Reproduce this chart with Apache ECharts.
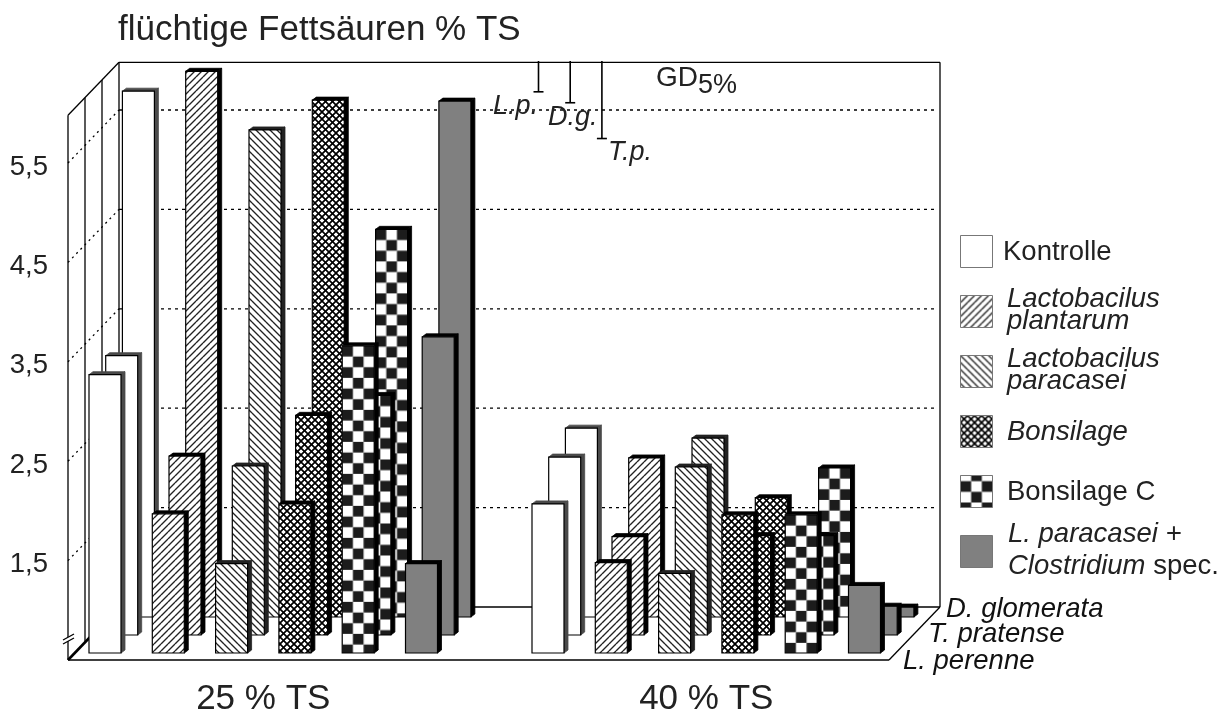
<!DOCTYPE html>
<html>
<head>
<meta charset="utf-8">
<style>html,body{margin:0;padding:0;background:#fff}#c{width:1230px;height:713px}</style>
<script src="https://cdn.jsdelivr.net/npm/echarts@6/dist/echarts.min.js"></script>
</head>
<body>
<div id="c"></div>
<script>
// ---- data ----
const dmLevels = ['25 % TS', '40 % TS'];
const treatments = ['Kontrolle', 'Lactobacilus plantarum', 'Lactobacilus paracasei', 'Bonsilage', 'Bonsilage C', 'L. paracasei + Clostridium spec.'];
const species = ['L. perenne', 'T. pratense', 'D. glomerata'];
// values per treatment, first the six of 25 % TS then the six of 40 % TS
const lPerenne25 = [3.30, 1.90, 1.40, 2.00, 3.59, 1.40];
const lPerenne40 = [2.00, 1.41, 1.30, 1.89, 1.89, 1.18];
const tPratense25 = [3.31, 2.30, 2.20, 2.71, 2.91, 3.50];
const tPratense40 = [2.29, 1.49, 2.19, 1.50, 1.50, 0.79];
const dGlomerata25 = [5.79, 5.99, 5.40, 5.70, 4.40, 5.69];
const dGlomerata40 = [2.40, 2.10, 2.30, 1.70, 2.00, 0.60];
const gdLabels = ['L.p.', 'D.g.', 'T.p.'];
const gdValues = [0.31, 0.42, 0.78];
const gridValues = [1.5, 2.5, 3.5, 4.5, 5.5];

// ---- layout ----
const FONT = '"Liberation Sans", Arial, sans-serif';
const STEP = 63.3, BAR = 32, DEPTH = 4, DEPTH_Y = 3, ROW_DX = 16.7, ROW_DY = -18, FRONT_DY = -7;
const AX_X = 68, FLOOR_R = 889, WALL_DX = 51, WALL_DY = -53, MIN = 0.5, MAX = 6;
const GROUP_W = STEP * 5 + BAR;
const sideColors = ['#4a4a4a', '#000', '#222', '#000', '#000', '#000'];

function tile(w, h, draw) {
  const c = document.createElement('canvas');
  c.width = w; c.height = h;
  const g = c.getContext('2d');
  g.fillStyle = '#fff'; g.fillRect(0, 0, w, h);
  draw(g);
  return c;
}
function diag(g, s, dir) {
  for (let k = -s; k <= 2 * s; k += s) {
    g.beginPath();
    if (dir > 0) { g.moveTo(k - s, s); g.lineTo(k + s, -s); g.moveTo(k, s + s); g.lineTo(k + 2 * s, 0);}
    else { g.moveTo(k - s, 0); g.lineTo(k + s, 2 * s); g.moveTo(k - s, -s); g.lineTo(k + s, s);}
    g.stroke();
  }
}
const tiles = {
  up: tile(7, 7, g => { g.strokeStyle = '#222'; g.lineWidth = 1.05; diag(g, 7, 1); }),
  down: tile(7, 7, g => { g.strokeStyle = '#222'; g.lineWidth = 1.05; diag(g, 7, -1); }),
  cross: tile(7, 7, g => { g.strokeStyle = '#000'; g.lineWidth = 1.35; diag(g, 7, 1); diag(g, 7, -1); }),
  check: tile(64, 64, g => {
    g.fillStyle = '#1c1c1c';
    const n = 6, s = 64 / n;
    for (let i = 0; i < n; i++) for (let j = 0; j < n; j++) if ((i + j) % 2 === 0) g.fillRect(i * s, j * s, s, s);
  })
};
function faceFill(t, x, y) {
  switch (t) {
    case 0: return '#fff';
    case 1: return { image: tiles.up, repeat: 'repeat' };
    case 2: return { image: tiles.down, repeat: 'repeat' };
    case 3: return { image: tiles.cross, repeat: 'repeat' };
    case 4: return { image: tiles.check, repeat: 'repeat', x: x, y: y };
    default: return '#808080';
  }
}

function barItem(row) {
  return function (params, api) {
    const g = api.value(0), v = api.value(1), t = api.value(2);
    const top = api.coord([g, v]), base = api.coord([g, MIN]);
    const dy = FRONT_DY + ROW_DY * row;
    const x = top[0] - GROUP_W / 2 + t * STEP + ROW_DX * row;
    const yT = top[1] + dy, yB = base[1] + dy;
    const side = sideColors[t];
    return {
      type: 'group',
      children: [
        { type: 'polygon', shape: { points: [[x + BAR, yT], [x + BAR + DEPTH, yT - DEPTH_Y], [x + BAR + DEPTH, yB - DEPTH_Y], [x + BAR, yB]] }, style: { fill: side, stroke: side, lineWidth: 0.8 } },
        { type: 'polygon', shape: { points: [[x, yT], [x + DEPTH, yT - DEPTH_Y], [x + BAR + DEPTH, yT - DEPTH_Y], [x + BAR, yT]] }, style: { fill: side, stroke: side, lineWidth: 0.8 } },
        { type: 'rect', shape: { x: x, y: yT, width: BAR, height: yB - yT }, style: { fill: faceFill(t, x, yT), stroke: '#000', lineWidth: 1.2 } }
      ]
    };
  };
}
function line(x1, y1, x2, y2, w, dash) {
  return { type: 'line', shape: { x1, y1, x2, y2 }, style: { stroke: '#000', lineWidth: w || 1.3, lineDash: dash || null, fill: null } };
}
function frameItem(params, api) {
  const yBase = api.coord([0, MIN])[1], yTop = api.coord([0, MAX])[1];
  const wallR = FLOOR_R + WALL_DX, xB = AX_X + WALL_DX, yBack = yBase + WALL_DY, yBackTop = yTop + WALL_DY + 2;
  const ch = [];
  // back wall
  ch.push(line(xB, yBackTop, wallR, yBackTop), line(wallR, yBackTop, wallR, yBack), line(xB, yBack, wallR, yBack));
  // left wall verticals and slanted top
  ch.push(line(AX_X, yTop + 2, xB, yBackTop));
  for (let i = 0; i <= 3; i++) {
    const f = i / 3;
    ch.push(line(AX_X + WALL_DX * f, yTop + 2 + (yBackTop - yTop - 2) * f, AX_X + WALL_DX * f, yBase + WALL_DY * f));
  }
  // floor
  ch.push(line(AX_X, yBase, FLOOR_R, yBase), line(FLOOR_R, yBase, wallR, yBack), line(AX_X, yBase, xB, yBack, 2.6));
  // grid lines
  gridValues.forEach(v => {
    const y = api.coord([0, v])[1];
    ch.push(line(xB, y + WALL_DY, wallR - 5, y + WALL_DY, 1.3, [3, 4]));
    ch.push(line(AX_X, y, xB, y + WALL_DY, 1.3, [2, 4]));
  });
  // axis break
  ch.push({ type: 'polygon', shape: { points: [[63, 640], [74, 634], [74, 638], [63, 644]] }, style: { fill: '#fff', stroke: null } });
  ch.push(line(63, 640, 74, 634), line(63, 644, 74, 638));
  return { type: 'group', children: ch };
}
function gdItem(params, api) {
  const i = api.value(2), len = api.size([0, api.value(1)])[1];
  const x = 538.5 + i * 31.7, y0 = 61, y1 = y0 + len;
  const lx = [493, 548, 608][i], ly = [106, 117, 152][i];
  return {
    type: 'group',
    children: [
      line(x, y0, x, y1, 1.6), line(x - 5, y1, x + 5, y1, 1.6),
      { type: 'text', x: lx, y: ly, style: { text: gdLabels[i], font: 'italic 27px ' + FONT, fill: '#222', textVerticalAlign: 'middle' } }
    ]
  };
}

const rows = [[dGlomerata25, dGlomerata40, 2], [tPratense25, tPratense40, 1], [lPerenne25, lPerenne40, 0]];
const series = [{
  type: 'custom', name: 'frame', renderItem: frameItem, data: [[0, MIN]], silent: true
}];
rows.forEach(r => {
  const data = [];
  [r[0], r[1]].forEach((arr, g) => arr.forEach((v, t) => data.push([g, v, t])));
  series.push({ type: 'custom', name: species[r[2]], renderItem: barItem(r[2]), data: data });
});
series.push({ type: 'custom', name: 'GD 5%', renderItem: gdItem, data: gdValues.map((v, i) => [0, v, i]), silent: true });

// ---- legend and labels ----
const LEG_X = 960, LEG_S = 32, LEG_TOP = 235, LEG_GAP = 60;
const LF = 27.5;
const legendText = [
  { x: 1003, lines: [['Kontrolle', 1, false]] },
  { x: 1007, lines: [['Lactobacilus', -12, true], ['plantarum', 10, true]] },
  { x: 1007, lines: [['Lactobacilus', -12, true], ['paracasei', 10, true]] },
  { x: 1007, lines: [['Bonsilage', 1, true]] },
  { x: 1007, lines: [['Bonsilage C', 1, false]] },
  { x: 1008, lines: [['L. paracasei +', -17, true], ['{i|Clostridium} spec.', 15, false]] }
];
const graphic = [];
treatments.forEach((t, i) => {
  const y = LEG_TOP + i * LEG_GAP;
  graphic.push({ type: 'rect', left: LEG_X, top: y, shape: { width: LEG_S, height: LEG_S }, style: { fill: faceFill(i, LEG_X, y), stroke: '#777', lineWidth: 1 } });
  legendText[i].lines.forEach(l => {
    graphic.push({
      type: 'text', x: legendText[i].x, y: y + 16 + l[1],
      style: { text: l[0], font: (l[2] ? 'italic ' : '') + LF + 'px ' + FONT, fill: '#222', verticalAlign: 'middle', rich: { i: { font: 'italic ' + LF + 'px ' + FONT, fill: '#222' } } }
    });
  });
});
[['D. glomerata', 946, 609], ['T. pratense', 928, 634], ['L. perenne', 903, 661]].forEach(s => {
  graphic.push({ type: 'text', x: s[1], y: s[2], style: { text: s[0], font: 'italic ' + LF + 'px ' + FONT, fill: '#111', verticalAlign: 'middle' } });
});
graphic.push({ type: 'text', x: 656, y: 78, style: { text: 'GD', font: '28px ' + FONT, fill: '#222', verticalAlign: 'middle' } });
graphic.push({ type: 'text', x: 698, y: 86, style: { text: '5%', font: '27px ' + FONT, fill: '#222', verticalAlign: 'middle' } });

const chart = echarts.init(document.getElementById('c'), null, { renderer: 'canvas' });
chart.setOption({
  animation: false,
  backgroundColor: '#fff',
  title: { text: 'flüchtige Fettsäuren % TS', left: 118, top: 13, padding: 0, textStyle: { fontFamily: FONT, fontSize: 35, fontWeight: 'normal', color: '#222' } },
  grid: { left: 263.25 - 221.5, width: 886, top: 660 - (MAX - MIN) * 99.4, height: (MAX - MIN) * 99.4, outerBoundsMode: 'none' },
  xAxis: {
    type: 'category', data: dmLevels, axisLine: { show: false }, axisTick: { show: false },
    axisLabel: { fontFamily: FONT, fontSize: 35, color: '#222', margin: 22 }
  },
  yAxis: {
    type: 'value', min: MIN, max: MAX, interval: 0.5, offset: -(AX_X - (263.25 - 221.5)),
    axisLine: { show: false }, axisTick: { show: false }, splitLine: { show: false },
    axisLabel: {
      color: '#222', margin: 20,
      formatter: v => gridValues.indexOf(v) >= 0 ? '{a|' + String(v).replace('.', ',') + '}' : '',
      rich: { a: { fontFamily: FONT, fontSize: 27.5, color: '#222', padding: [8, 0, 0, 0] } }
    }
  },
  graphic: graphic,
  series: series
});
</script>
</body>
</html>
